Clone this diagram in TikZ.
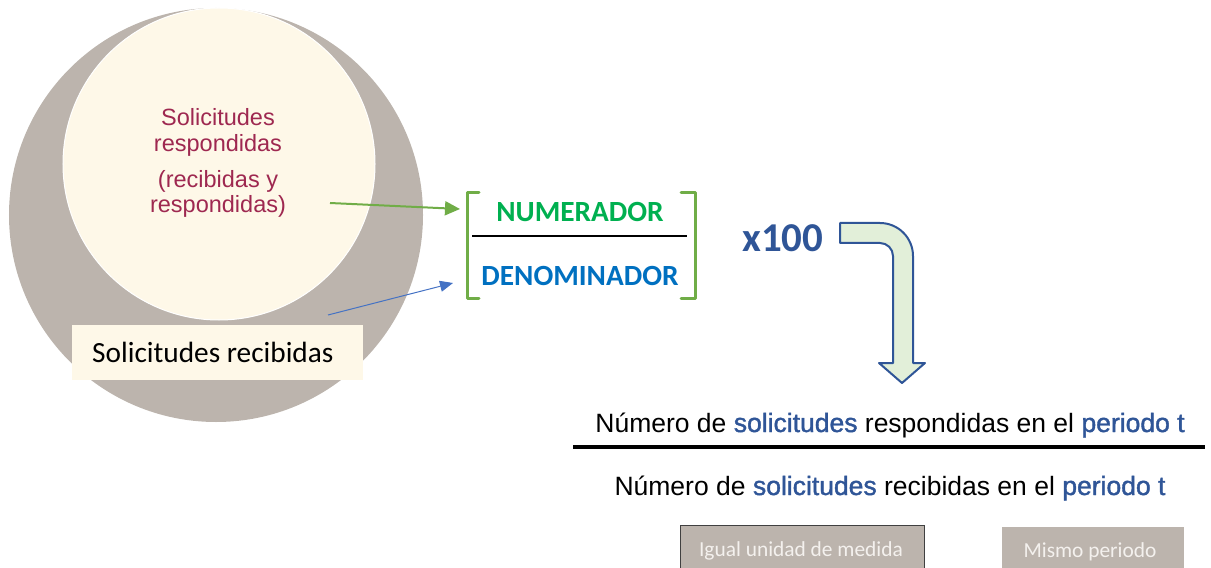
\documentclass[tikz,border=0pt]{standalone}
\usepackage{fontspec}
\setmainfont{Liberation Sans}
\newfontfamily\calfont{Carlito}
\newfontfamily\medfont{Liberation Sans}[FakeBold=1.5]
\usetikzlibrary{arrows.meta}
\definecolor{ringgray}{HTML}{BCB4AD}
\definecolor{cream}{HTML}{FEF8E8}
\definecolor{maroon}{RGB}{158,40,80}
\definecolor{brgreen}{HTML}{70AD47}
\definecolor{numgreen}{HTML}{00B050}
\definecolor{denblue}{HTML}{0070C0}
\definecolor{darkblue}{HTML}{2F5597}
\definecolor{arrblue}{HTML}{4472C4}
\definecolor{arrfill}{HTML}{E2EFD9}
\definecolor{boxtext}{HTML}{F4F1EE}
\tikzset{
  circtext/.style={text=maroon, inner sep=0pt, anchor=base, font=\fontsize{23.5bp}{27bp}\selectfont},
  bracketline/.style={draw=brgreen, line width=3bp, line cap=round, line join=round},
  fractext/.style={inner sep=0pt, font=\calfont\bfseries\fontsize{29.3bp}{33bp}\selectfont},
  formtext/.style={inner sep=0pt, anchor=base, font=\fontsize{26.5bp}{30bp}\selectfont},
  tagbox/.style={fill=ringgray, inner sep=0pt},
  tagtext/.style={inner sep=0pt, anchor=base, text=boxtext, font=\calfont\fontsize{21.4bp}{24bp}\selectfont},
}
\newcommand{\hl}[1]{{\medfont\color{darkblue}#1}}
\begin{document}
\begin{tikzpicture}[x=1bp,y=-1bp]
\useasboundingbox (0,0) rectangle (1211,568);
% circles
\node[circle, fill=ringgray, minimum size=414bp, inner sep=0pt] (outer) at (216,215) {};
\node[circle, fill=cream, draw=white, line width=1bp, minimum size=312bp, inner sep=0pt] (inner) at (219,164) {};
\node[circtext] (t1) at (218,126) {Solicitudes};
\node[circtext] (t2) at (218,152) {respondidas};
\node[circtext] (t3) at (218,188) {(recibidas y};
\node[circtext] (t4) at (218,213) {respondidas)};
% label box
\node[fill=cream, minimum width=291bp, minimum height=55bp, inner sep=0pt] (recbox) at (217.5,352.5) {};
\node[inner sep=0pt, anchor=base west, font=\calfont\fontsize{29.3bp}{33bp}\selectfont] (rectext) at (92,363) {Solicitudes recibidas};
% brackets
\draw[bracketline] (479,193) -- (467,193) -- (467,299) -- (479,299);
\draw[bracketline] (681,193) -- (695,193) -- (695,299) -- (681,299);
\coordinate (fl) at (472,236);
\coordinate (fr) at (687,236);
\draw[line width=1.5bp] (fl) -- (fr);
\node[fractext, text=numgreen] (num) at (580,212) {NUMERADOR};
\node[fractext, text=denblue] (den) at (580,276) {DENOMINADOR};
% arrows
\coordinate (gs) at (330,203);
\coordinate (ge) at (460,209);
\draw[brgreen, line width=2bp, -{Triangle[length=15bp,width=14bp]}] (gs) -- (ge);
\coordinate (bs) at (328,315);
\coordinate (be) at (453,283);
\draw[arrblue, line width=1bp, -{Triangle[length=13bp,width=11bp]}] (bs) -- (be);
% x100
\node[inner sep=0pt, anchor=base west, text=darkblue, font=\calfont\bfseries\fontsize{41bp}{44bp}\selectfont] (times) at (742,252) {x100};
% bent arrow
\draw[darkblue, line width=2bp, fill=arrfill, line join=round]
  (840,223) -- (880,223) .. controls (898.2,223) and (913,237.8) .. (913,256)
  -- (913,363) -- (925,363) -- (902,383) -- (879,363) -- (893,363) -- (893,256)
  .. controls (893,248.8) and (887.2,243) .. (880,243) -- (840,243) -- cycle;
% formula
\node[formtext] (line1) at (890,432) {Número de \hl{solicitudes} respondidas en el \hl{periodo t}};
\coordinate (ll) at (573,447);
\coordinate (lr) at (1205,447);
\draw[line width=3.3bp] (ll) -- (lr);
\node[formtext] (line2) at (890,495) {Número de \hl{solicitudes} recibidas en el \hl{periodo t}};
% bottom tags
\node[tagbox, draw=black!75, line width=1bp, minimum width=244bp, minimum height=50bp] (tag1) at (802,550) {};
\node[tagtext] (tag1t) at (801,556) {Igual unidad de medida};
\node[tagbox, minimum width=182bp, minimum height=50bp] (tag2) at (1093,552) {};
\node[tagtext] (tag2t) at (1090,557) {Mismo periodo};
\end{tikzpicture}
\end{document}
